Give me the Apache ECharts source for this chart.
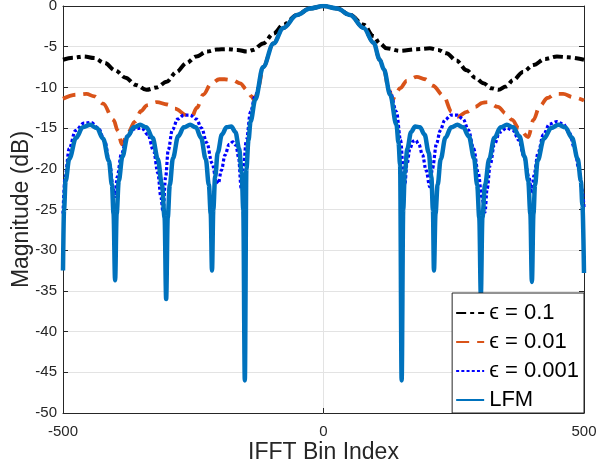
<!DOCTYPE html>
<html>
<head>
<meta charset="utf-8">
<script src="https://cdn.jsdelivr.net/npm/echarts@6/dist/echarts.min.js"></script>
<style>
  html, body { margin: 0; padding: 0; background: #fff; }
  #chart { width: 600px; height: 466px; }
</style>
</head>
<body>
<div id="chart"></div>
<script>
// [bin index, magnitude dB]
const eps01 = [
  [-500, -6.6], [-480, -6.35], [-460, -6.2], [-440, -6.4], [-420, -7.0], [-400, -7.9],
  [-380, -8.8], [-360, -9.7], [-340, -10.3], [-320, -10.0], [-301, -9.3], [-282, -8.1],
  [-263, -7.0], [-244, -6.2], [-224, -5.6], [-205, -5.35], [-186, -5.3], [-165, -5.4],
  [-147, -5.6], [-135, -5.4], [-116, -4.6], [-96, -3.4], [-77, -2.3], [-51, -1.1],
  [-26, -0.3], [0, 0], [26, -0.3], [51, -1.1], [77, -2.3], [96, -3.7], [108, -4.6],
  [121, -5.2], [147, -5.5], [179, -5.3], [204, -5.2], [220, -5.4], [236, -5.8], [255, -6.7],
  [275, -7.9], [291, -8.8], [307, -9.5], [322, -10.1], [336, -10.3], [350, -9.9], [364, -9.1],
  [383, -8.1], [403, -7.25], [425, -6.5], [448, -6.2], [470, -6.3], [500, -6.6]
];

const eps001 = [
  [-500, -11.4], [-475, -10.9], [-455, -10.8], [-440, -11.1], [-423, -12.0], [-403, -14.0],
  [-395, -15.3], [-387, -17.0], [-375, -15.5], [-362, -14.2], [-350, -12.9], [-339, -12.2],
  [-320, -11.8], [-300, -12.1], [-285, -12.6], [-263, -13.4], [-253, -13.6], [-243, -12.5],
  [-231, -10.9], [-215, -9.5], [-200, -9.0], [-190, -9.0], [-175, -9.1], [-160, -9.5],
  [-147, -10.3], [-138, -11.1], [-133, -11.6], [-125, -10.0], [-116, -7.5], [-96, -4.6],
  [-77, -2.7], [-51, -1.1], [-26, -0.3], [0, 0], [26, -0.3], [51, -1.1], [77, -2.7],
  [96, -4.5], [108, -6.6], [116, -7.8], [125, -10.2], [133, -11.5], [140, -10.6], [147, -10.1],
  [160, -9.2], [179, -8.7], [195, -9.0], [210, -9.8], [230, -11.0], [246, -13.0],
  [258, -13.6], [275, -13.0], [291, -12.4], [305, -11.9], [315, -11.8], [335, -12.4],
  [350, -13.2], [362, -14.0], [375, -15.0], [393, -16.1], [403, -14.0], [415, -12.3],
  [430, -11.3], [445, -10.8], [460, -10.8], [479, -11.2], [500, -11.6]
];

const eps0001 = [
  [-500, -25.5], [-496, -21], [-488, -17.5], [-476, -15.3], [-460, -14.4], [-446, -14.3],
  [-432, -15.0], [-420, -16.6], [-410, -19.5], [-404, -22.3], [-400, -23.4],
  [-396, -21], [-388, -18.2], [-377, -16], [-363, -15.1], [-349, -15.0], [-337, -15.8],
  [-326, -17.8], [-318, -20.5], [-312, -23.5], [-308, -25.3],
  [-303, -21], [-298, -17.7], [-290, -15.2], [-280, -13.9], [-268, -13.4], [-256, -13.4],
  [-244, -13.9], [-234, -15], [-224, -16.8], [-214, -19.3], [-206, -21.3], [-202, -21.8],
  [-196, -20.2], [-189, -18.3], [-181, -17], [-174, -16.7], [-168, -17.1], [-163, -18.6],
  [-158, -22.4], [-154, -20], [-148, -16.5], [-140, -13], [-131, -11], [-116, -7.5],
  [-96, -4.6], [-77, -2.7], [-51, -1.1], [-26, -0.3], [0, 0], [26, -0.3], [51, -1.1],
  [77, -2.7], [96, -4.5], [108, -6.6], [116, -7.8], [128, -10.6], [140, -13], [148, -16.5], [153, -20],
  [156, -22], [160, -19.5], [166, -17.5], [172, -16.6], [177, -16.5], [183, -17.0],
  [190, -18.3], [197, -20.2], [204, -22.2],
  [209, -20], [217, -16.9], [224, -15.3], [233, -14.0], [245, -13.4], [257, -13.4],
  [268, -13.9], [278, -15.2], [288, -17.5], [297, -20.5], [304, -23.5], [310, -25.3],
  [314, -22.5], [320, -19.5], [328, -17], [338, -15.5], [352, -15.0], [364, -15.3],
  [375, -16.5], [385, -18.5], [394, -21], [400, -23.0],
  [404, -20.8], [412, -18], [422, -15.8], [434, -14.5], [448, -14.2], [460, -14.5],
  [472, -15.6], [482, -17.5], [490, -20], [496, -22.5], [500, -24.7]
];

const lfm = [
  [-500, -32.5], [-498, -25], [-495, -21.5], [-488, -18.8], [-475, -16.2], [-462, -14.9],
  [-448, -14.6], [-435, -15.0], [-423, -16.3], [-412, -19.0], [-406, -22], [-403, -25.5],
  [-400, -33.7],
  [-397, -25.5], [-393, -21.5], [-386, -18.5], [-376, -16.0], [-364, -14.9], [-352, -14.6],
  [-340, -14.9], [-328, -16.2], [-318, -18.8], [-310, -22], [-305, -26], [-302, -36],
  [-299, -26], [-295, -22], [-289, -18.7], [-279, -16.0], [-268, -14.9], [-256, -14.6],
  [-245, -14.9], [-235, -16.2], [-226, -18.8], [-220, -22], [-216.5, -25.5], [-214, -32.5],
  [-211.5, -25], [-208, -21], [-203, -18], [-195, -15.8], [-186, -14.9], [-177, -14.8],
  [-169, -15.5], [-162, -17.5], [-157, -20.5], [-154, -25], [-151, -46],
  [-148, -20], [-144, -16.5], [-140, -14.2], [-131, -11.5], [-116, -7.5], [-96, -4.6],
  [-77, -2.7], [-51, -1.1], [-26, -0.3], [0, 0], [26, -0.3], [51, -1.1], [77, -2.7],
  [96, -4.5], [108, -6.6], [116, -7.8], [128, -10.9], [140, -14.6], [144, -16.8],
  [147, -19.5], [150, -46],
  [153, -25], [156, -20.5], [161, -17.5], [168, -15.5], [176, -14.8], [185, -14.9],
  [194, -15.8], [202, -18], [207, -21], [210, -25], [212, -32.5],
  [215, -25.5], [219, -22], [225, -18.8], [234, -16.2], [245, -14.9], [257, -14.6],
  [268, -14.9], [279, -16.0], [289, -18.7], [295, -22], [299, -26], [302, -35.5],
  [305, -26], [310, -22], [318, -18.8], [328, -16.2], [340, -14.9], [352, -14.6],
  [364, -14.9], [376, -16.0], [386, -18.5], [393, -21.5], [397, -25.5], [400, -33.9],
  [403, -25.5], [406, -22], [411, -19.0], [423, -16.3], [437, -15.0], [451, -14.6],
  [464, -14.9], [477, -16.2], [488, -18.8], [494, -21.5], [497, -24.5], [500, -32.8]
];

const seriesNames = ['ϵ = 0.1', 'ϵ = 0.01', 'ϵ = 0.001', 'LFM'];
const xTicks = [-500, 0, 500];

const chart = echarts.init(document.getElementById('chart'));
const font = 'Liberation Sans, Arial, Helvetica, sans-serif';
const axisColor = '#262626';

const line = (name, data, color, width, type) => ({
  name: name,
  type: 'line',
  data: data,
  symbol: 'none',
  smooth: 0.35,
  smoothMonotone: 'x',
  animation: false,
  lineStyle: { color: color, width: width, type: type, cap: 'butt' },
  itemStyle: { color: color }
});

chart.setOption({
  animation: false,
  grid: { left: 63, right: 16, top: 6, bottom: 53, outerBoundsMode: 'none', containLabel: false },
  legend: {
    orient: 'vertical',
    right: 16,
    bottom: 53,
    data: seriesNames,
    itemWidth: 28,
    itemHeight: 14,
    itemGap: 7,
    padding: [9, 5, 2, 3],
    backgroundColor: '#fff',
    borderColor: '#262626',
    borderWidth: 1,
    borderRadius: 0,
    itemStyle: { opacity: 0 },
    textStyle: { fontFamily: font, fontSize: 22, color: '#000', lineHeight: 22 }
  },
  xAxis: [
    {
      type: 'value', min: -500, max: 500, interval: 500,
      name: 'IFFT Bin Index', nameLocation: 'middle', nameGap: 28,
      nameMoveOverlap: false,
      nameTextStyle: { fontFamily: font, fontSize: 23, color: axisColor },
      axisLine: { show: true, onZero: false, lineStyle: { color: axisColor, width: 1 } },
      axisTick: { show: true, inside: true, length: 5, lineStyle: { color: axisColor } },
      axisLabel: {
        fontFamily: font, fontSize: 15, color: axisColor, margin: 11,
        formatter: v => (xTicks.indexOf(v) >= 0 ? String(v) : '')
      },
      splitLine: { show: true, lineStyle: { color: '#e3e3e3', width: 1 } }
    },
    {
      type: 'value', min: -500, max: 500, interval: 500, position: 'top',
      axisLine: { show: true, onZero: false, lineStyle: { color: axisColor, width: 1 } },
      axisTick: { show: true, inside: true, length: 5, lineStyle: { color: axisColor } },
      axisLabel: { show: false },
      splitLine: { show: false }
    }
  ],
  yAxis: [
    {
      type: 'value', min: -50, max: 0, interval: 5,
      name: 'Magnitude (dB)', nameLocation: 'middle', nameGap: 30,
      nameMoveOverlap: false,
      nameTextStyle: { fontFamily: font, fontSize: 23, color: axisColor },
      axisLine: { show: true, onZero: false, lineStyle: { color: axisColor, width: 1 } },
      axisTick: { show: true, inside: true, length: 5, lineStyle: { color: axisColor } },
      axisLabel: { fontFamily: font, fontSize: 15, color: axisColor, margin: 6 },
      splitLine: { show: true, lineStyle: { color: '#e3e3e3', width: 1 } }
    },
    {
      type: 'value', min: -50, max: 0, interval: 5, position: 'right',
      axisLine: { show: true, onZero: false, lineStyle: { color: axisColor, width: 1 } },
      axisTick: { show: true, inside: true, length: 5, lineStyle: { color: axisColor } },
      axisLabel: { show: false },
      splitLine: { show: false }
    }
  ],
  series: [
    line(seriesNames[0], eps01, '#000000', 4, [10, 4, 4, 4]),
    line(seriesNames[1], eps001, '#D95319', 3.8, [13, 8]),
    line(seriesNames[2], eps0001, '#0000FF', 3.2, [3, 2.2]),
    line(seriesNames[3], lfm, '#0072BD', 4.5, 'solid')
  ]
});
</script>
</body>
</html>
